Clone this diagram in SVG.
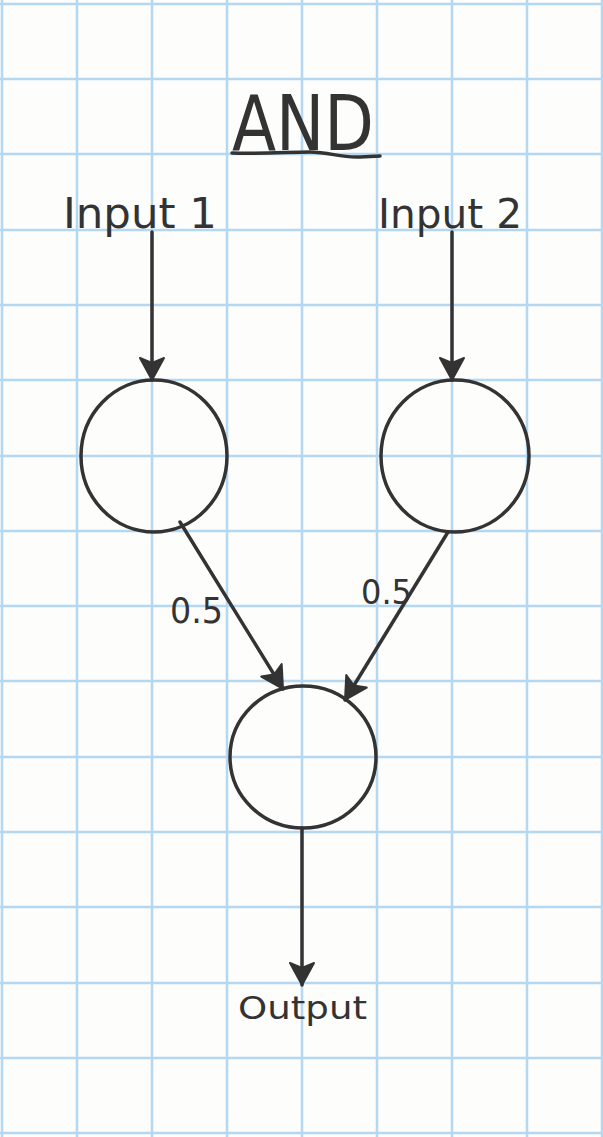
<svg xmlns="http://www.w3.org/2000/svg" width="603" height="1137" viewBox="0 0 603 1137">
<style>
.grid{stroke:#b4d8f2;stroke-width:2.5;fill:none}
.ink{stroke:#333;stroke-width:3.5;fill:none;stroke-linecap:round;stroke-linejoin:round}
.txt{font-family:"DejaVu Sans","Liberation Sans",sans-serif;fill:#333}
</style>
<defs>
<marker id="ah" markerUnits="userSpaceOnUse" markerWidth="30" markerHeight="30" viewBox="0 0 30 30" refX="26" refY="15" orient="auto">
<path d="M4,3 L26,15 L4,27 L9,15 Z" fill="#333" stroke="#333" stroke-width="2" stroke-linejoin="round"/>
</marker>
</defs>
<rect width="603" height="1137" fill="#fdfdfc"/>
<g id="grid" class="grid">
<path d="M2,0V1137M77,0V1137M152,0V1137M227,0V1137M302,0V1137M377,0V1137M452,0V1137M527,0V1137M602,0V1137"/>
<path d="M0,4H603M0,79H603M0,154H603M0,230H603M0,305H603M0,380H603M0,456H603M0,531H603M0,606H603M0,681H603M0,757H603M0,832H603M0,907H603M0,983H603M0,1058H603M0,1133H603"/>
</g>
<g id="title">
<text class="txt" x="232" y="150" font-size="76" textLength="142" lengthAdjust="spacingAndGlyphs">AND</text>
<path class="ink" d="M232,153 C260,154 290,152 310,152 C330,152 340,158 360,157 L380,156" stroke-width="4"/>
</g>
<g id="node-input1"><text class="txt" x="63" y="228" font-size="42" textLength="154" lengthAdjust="spacingAndGlyphs">Input 1</text></g>
<g id="node-input2"><text class="txt" x="378" y="228" font-size="40" textLength="144" lengthAdjust="spacingAndGlyphs">Input 2</text></g>
<g id="node-h1"><ellipse class="ink" cx="154" cy="456" rx="73" ry="76"/></g>
<g id="node-h2"><ellipse class="ink" cx="455" cy="456" rx="74" ry="76"/></g>
<g id="node-out"><ellipse class="ink" cx="303" cy="757" rx="73" ry="71"/></g>
<g id="node-output"><text class="txt" x="238" y="1019" font-size="32" textLength="129" lengthAdjust="spacingAndGlyphs">Output</text></g>
<g id="connectors">
<line class="ink" x1="152" y1="232" x2="152" y2="380" marker-end="url(#ah)"/>
<line class="ink" x1="452" y1="232" x2="452" y2="380" marker-end="url(#ah)"/>
<line class="ink" x1="180" y1="522" x2="283" y2="689" marker-end="url(#ah)"/>
<line class="ink" x1="448" y1="532" x2="345" y2="700" marker-end="url(#ah)"/>
<line class="ink" x1="302" y1="828" x2="302" y2="985" marker-end="url(#ah)"/>
<text class="txt" x="170" y="623" font-size="36" textLength="53" lengthAdjust="spacingAndGlyphs">0.5</text>
<text class="txt" x="361" y="604" font-size="34" textLength="51" lengthAdjust="spacingAndGlyphs">0.5</text>
</g>
</svg>
